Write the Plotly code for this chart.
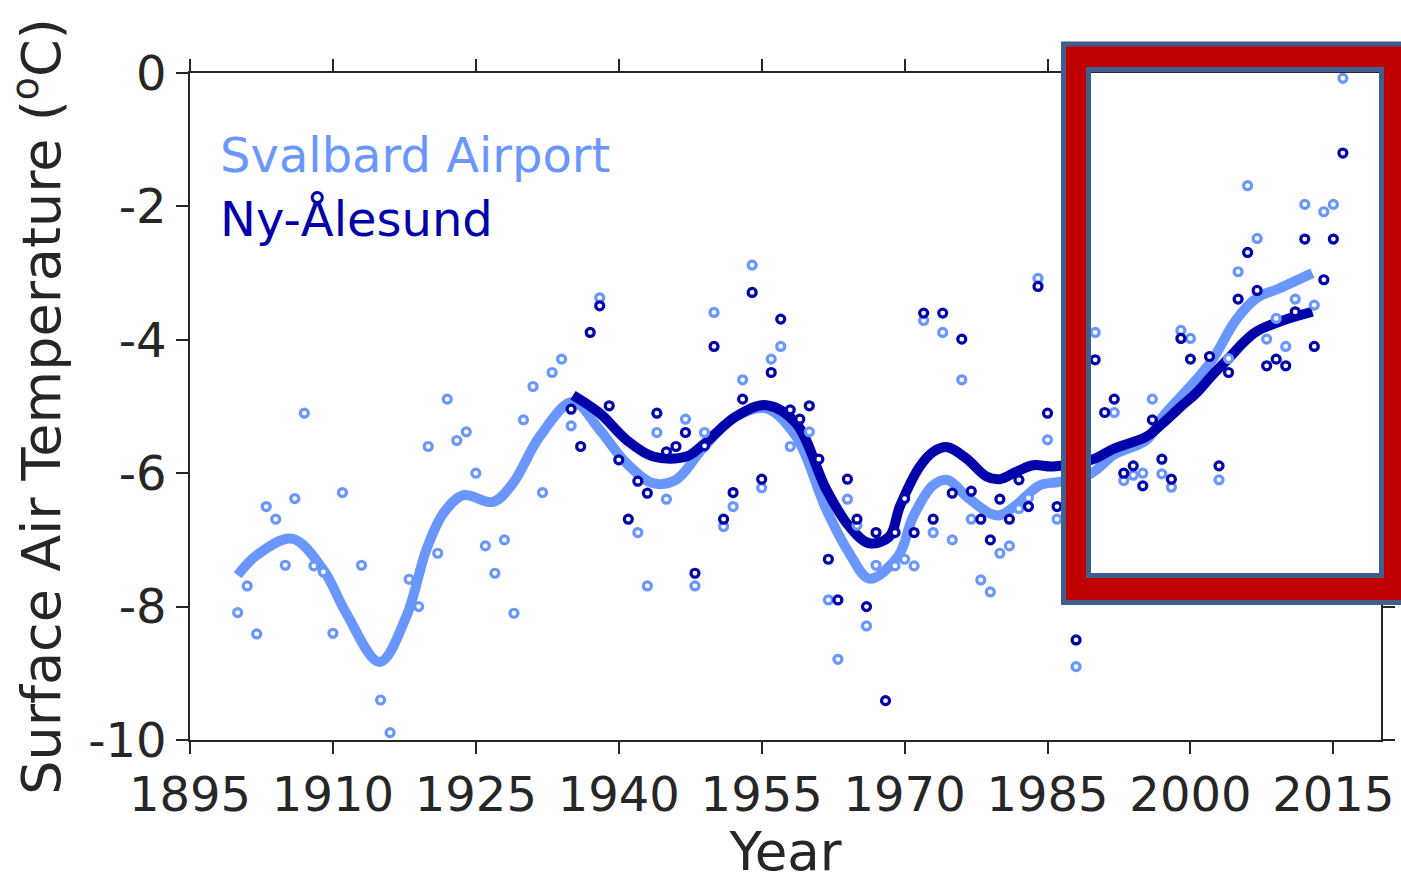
import plotly.graph_objects as go

# ---- annual mean surface air temperature (deg C) ----
svalbard_years = [1900, 1901, 1902, 1903, 1904, 1905, 1906, 1907, 1908, 1909, 1910, 1911,
                  1913, 1915, 1916, 1918, 1919, 1920, 1921, 1922, 1923, 1924, 1925, 1926,
                  1927, 1928, 1929, 1930, 1931, 1932, 1933, 1934, 1935, 1938, 1942, 1943,
                  1944, 1945, 1947, 1948, 1949, 1950, 1951, 1952, 1953, 1954, 1955, 1956,
                  1957, 1958, 1960, 1962, 1963, 1964, 1965, 1966, 1967, 1969, 1970, 1971,
                  1972, 1973, 1974, 1975, 1976, 1977, 1978, 1979, 1980, 1981, 1982, 1983,
                  1984, 1985, 1986, 1988, 1990, 1992, 1993, 1994, 1995, 1996, 1997, 1998,
                  1999, 2000, 2003, 2004, 2005, 2006, 2007, 2008, 2009, 2010, 2011, 2012,
                  2013, 2014, 2015, 2016]
svalbard_temp = [-8.09, -7.69, -8.41, -6.50, -6.69, -7.38, -6.38, -5.10, -7.39, -7.48, -8.40, -6.29,
                 -7.38, -9.40, -9.89, -7.59, -8.00, -5.60, -7.20, -4.89, -5.51, -5.38, -6.00, -7.09,
                 -7.50, -7.00, -8.10, -5.20, -4.70, -6.29, -4.49, -4.29, -5.29, -3.37, -6.89, -7.69,
                 -5.39, -6.39, -5.19, -7.69, -5.39, -3.59, -6.80, -6.50, -4.60, -2.88, -6.22, -4.29,
                 -4.10, -5.60, -5.38, -7.90, -8.79, -6.39, -6.78, -8.29, -7.38, -7.39, -7.29, -7.39,
                 -3.71, -6.89, -3.89, -7.00, -4.60, -6.69, -7.60, -7.78, -7.20, -7.09, -6.53, -6.37,
                 -3.08, -5.50, -6.69, -8.90, -3.89, -5.09, -6.11, -6.03, -6.00, -4.89, -6.01, -6.21,
                 -3.86, -3.98, -6.10, -4.28, -2.98, -1.69, -2.48, -3.99, -3.68, -4.10, -3.39, -1.97,
                 -3.48, -2.08, -1.97, -0.08]

nyalesund_years = [1935, 1936, 1937, 1938, 1939, 1940, 1941, 1942, 1943, 1944, 1945, 1946,
                   1947, 1948, 1949, 1950, 1951, 1952, 1953, 1954, 1955, 1956, 1957, 1958,
                   1959, 1960, 1961, 1962, 1963, 1964, 1965, 1966, 1967, 1968, 1969, 1970,
                   1971, 1972, 1973, 1974, 1975, 1976, 1977, 1978, 1979, 1980, 1981, 1982,
                   1983, 1984, 1985, 1986, 1988, 1990, 1991, 1992, 1993, 1994, 1995, 1996,
                   1997, 1998, 1999, 2000, 2002, 2003, 2004, 2005, 2006, 2007, 2008, 2009,
                   2010, 2011, 2012, 2013, 2014, 2015, 2016]
nyalesund_temp = [-5.04, -5.60, -3.89, -3.49, -4.99, -5.80, -6.69, -6.12, -6.30, -5.10, -5.68, -5.60,
                  -5.39, -7.50, -5.59, -4.10, -6.69, -6.29, -4.89, -3.29, -6.09, -4.49, -3.69, -5.05,
                  -5.19, -4.99, -5.79, -7.29, -7.90, -6.09, -6.69, -8.00, -6.89, -9.41, -6.89, -6.38,
                  -6.89, -3.60, -6.69, -3.60, -6.30, -3.99, -6.27, -6.69, -7.00, -6.39, -6.69, -6.10,
                  -6.50, -3.20, -5.10, -6.50, -8.50, -4.30, -5.09, -4.89, -6.00, -5.89, -6.19, -5.20,
                  -5.79, -6.09, -3.98, -4.29, -4.25, -5.89, -4.49, -3.39, -2.69, -3.26, -4.39, -4.29,
                  -4.39, -3.58, -2.49, -4.10, -3.10, -2.49, -1.20]

# ---- smoothed trend curves ----
svalbard_trend_years = [1900, 1902, 1905.7, 1909, 1911.4, 1914.9, 1917.7, 1919.8, 1921.6, 1923.7,
                        1926.8, 1928.9, 1931.7, 1935.2, 1938, 1940.8, 1943.6, 1946, 1948.8, 1952.3,
                        1955.5, 1958.6, 1961.8, 1964.2, 1966.3, 1969.3, 1970.9, 1973, 1974.5, 1976.5,
                        1978.9, 1980, 1981.7, 1984.2, 1986.3, 1989.6, 1992, 1995.4, 1997.1, 1999,
                        2000.6, 2002.3, 2004.8, 2006.9, 2009.3, 2012.8]
svalbard_trend = [-7.53, -7.23, -6.98, -7.45, -8.10, -8.83, -8.15, -7.15, -6.60, -6.33,
                  -6.43, -6.15, -5.45, -4.93, -5.35, -5.85, -6.15, -6.10, -5.63, -5.15,
                  -5.03, -5.45, -6.55, -7.20, -7.58, -7.25, -6.65, -6.18, -6.10, -6.35,
                  -6.60, -6.63, -6.48, -6.18, -6.13, -6.00, -5.72, -5.50, -5.15, -4.85,
                  -4.60, -4.30, -3.70, -3.38, -3.23, -3.00]

nyalesund_trend_years = [1935.2, 1938, 1940.8, 1943.6, 1947.1, 1948.8, 1952.3, 1955.5, 1958.6, 1961.8,
                         1964.2, 1966.3, 1968.4, 1969.5, 1971.6, 1973, 1974.5, 1976.5, 1978.6, 1980,
                         1981.7, 1983.5, 1985.6, 1989.6, 1992, 1995.4, 1997.1, 1999, 2000.6, 2002.3,
                         2004.2, 2005.5, 2006.9, 2009.3, 2012.8]
nyalesund_trend = [-4.83, -5.10, -5.50, -5.75, -5.75, -5.58, -5.15, -4.98, -5.25, -6.25,
                   -6.80, -7.05, -6.95, -6.50, -5.90, -5.68, -5.61, -5.78, -6.05, -6.09,
                   -5.98, -5.88, -5.90, -5.80, -5.63, -5.45, -5.25, -5.00, -4.80, -4.53,
                   -4.25, -4.05, -3.88, -3.73, -3.58]

x_ticks = [1895, 1910, 1925, 1940, 1955, 1970, 1985, 2000, 2015]
y_ticks = [0, -2, -4, -6, -8, -10]

LIGHT = "#6A96FF"
DARK = "#0000AA"
RED = "#C00000"
STEEL = "#405F8C"
INK = "#262626"
FONT = "DejaVu Sans"

W, H = 1401, 882
ML, MR, MT, MB = 190, 20, 73, 142
PW, PH = W - ML - MR, H - MT - MB


def px(x):
    return (x - ML) / PW


def py(y):
    return (H - MB - y) / PH


fig = go.Figure()

fig.add_trace(go.Scatter(x=svalbard_trend_years, y=svalbard_trend, mode="lines",
                         line=dict(color=LIGHT, width=10, shape="spline", smoothing=1.0),
                         hoverinfo="skip", showlegend=False))
fig.add_trace(go.Scatter(x=nyalesund_trend_years, y=nyalesund_trend, mode="lines",
                         line=dict(color=DARK, width=10, shape="spline", smoothing=1.0),
                         hoverinfo="skip", showlegend=False))
fig.add_trace(go.Scatter(x=svalbard_years, y=svalbard_temp, mode="markers",
                         marker=dict(symbol="circle", size=8, color="white",
                                     line=dict(color=LIGHT, width=3.2)),
                         name="Svalbard Airport", showlegend=False))
fig.add_trace(go.Scatter(x=nyalesund_years, y=nyalesund_temp, mode="markers",
                         marker=dict(symbol="circle", size=8, color="white",
                                     line=dict(color=DARK, width=3.2)),
                         name="Ny-Ålesund", showlegend=False))

axis_common = dict(showgrid=False, zeroline=False, showline=True, linecolor=INK, linewidth=1.5,
                   mirror="ticks", ticks="outside", ticklen=12, tickwidth=1.5, tickcolor=INK,
                   tickfont=dict(family=FONT, size=48, color=INK), automargin=False)

fig.update_xaxes(range=[1895, 2020], tickvals=x_ticks, ticktext=[str(v) for v in x_ticks],
                 title=dict(text="Year", font=dict(family=FONT, size=53, color=INK), standoff=16),
                 **axis_common)
fig.update_yaxes(range=[-10, 0], tickvals=y_ticks, ticktext=[str(v) for v in y_ticks],
                 title=dict(text="Surface Air Temperature (<sup>o</sup>C)",
                            font=dict(family=FONT, size=54, color=INK), standoff=10),
                 **axis_common)

# station labels
fig.add_annotation(x=px(218), y=py(155), xref="paper", yref="paper", xanchor="left",
                   yanchor="middle", text="Svalbard Airport", showarrow=False,
                   font=dict(family=FONT, size=48, color=LIGHT))
fig.add_annotation(x=px(218), y=py(219), xref="paper", yref="paper", xanchor="left",
                   yanchor="middle", text="Ny-Ålesund", showarrow=False,
                   font=dict(family=FONT, size=48, color=DARK))

# highlight frame around the recent period
ox0, ox1, oy0, oy1 = px(1063.5), px(1430), py(44), py(602.5)
ix0, ix1, iy0, iy1 = px(1088.5), px(1381.5), py(69.5), py(575.5)
frame = (f"M{ox0},{oy0} L{ox1},{oy0} L{ox1},{oy1} L{ox0},{oy1} Z "
         f"M{ix0},{iy0} L{ix1},{iy0} L{ix1},{iy1} L{ix0},{iy1} Z")
fig.add_shape(type="path", path=frame, xref="paper", yref="paper", fillcolor=RED,
              fillrule="evenodd", line=dict(color=STEEL, width=5), layer="above")

fig.update_layout(width=W, height=H, margin=dict(l=ML, r=MR, t=MT, b=MB, pad=0),
                  paper_bgcolor="white", plot_bgcolor="white", showlegend=False)

fig.write_html("out.html")
